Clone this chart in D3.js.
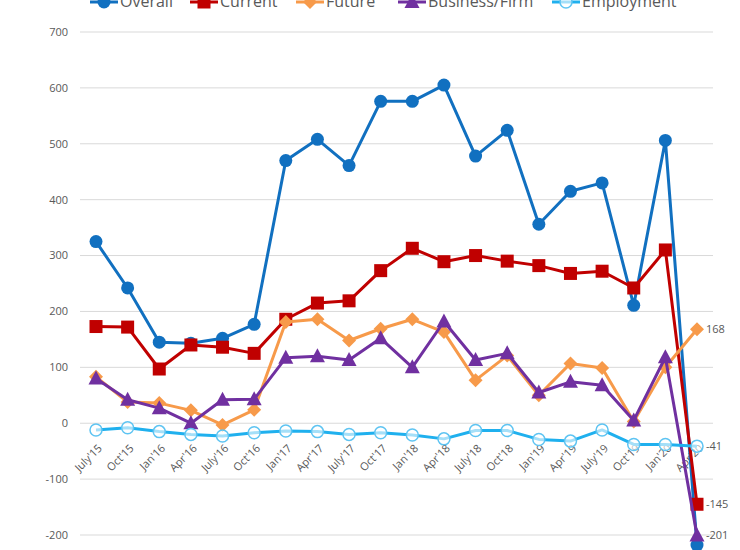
<!DOCTYPE html>
<html><head><meta charset="utf-8">
<script src="https://cdn.jsdelivr.net/npm/d3@7"></script>
<style>body{margin:0;background:#fff}svg{display:block;font-family:"Open Sans",sans-serif}</style>
</head><body><svg id="c" width="740" height="550"></svg>
<script>
const categories = ["July'15","Oct'15","Jan'16","Apr'16","July'16","Oct'16","Jan'17","Apr'17","July'17","Oct'17","Jan'18","Apr'18","July'18","Oct'18","Jan'19","Apr'19","July'19","Oct'19","Jan'20","Apr'20"];
const overall    = [325,242,145,143,152,177,470,508,461,576,576,605,478,524,356,415,430,211,506,-218];
const current    = [173,172,97,140,136,125,186,215,219,273,313,289,300,290,282,268,272,242,310,-145];
const future     = [83,38,36,23,-3,24,181,186,148,169,186,163,77,121,50,107,99,3,100,168];
const business   = [80,42,27,0,42,43,117,120,113,152,100,182,113,125,55,74,68,5,118,-201];
const employment = [-12,-8,-15,-20,-23,-17,-14,-15,-20,-17,-21,-28,-13,-13,-29,-32,-12,-38,-38,-41];
const yTicks = [-200,-100,0,100,200,300,400,500,600,700];
const seriesNames = ["Overall","Current","Future","Business/Firm","Employment"];
const endLabels = {"Future":168,"Employment":-41,"Current":-145,"Business/Firm":-201};

const series = [
  {name:"Overall", values:overall, color:"#1170c0", marker:"circle"},
  {name:"Current", values:current, color:"#c00000", marker:"square"},
  {name:"Future", values:future, color:"#f79a4a", marker:"diamond"},
  {name:"Business/Firm", values:business, color:"#7030a0", marker:"triangle"},
  {name:"Employment", values:employment, color:"#1fb0ee", marker:"open"}
];

const svg = d3.select("#c");
const x = d3.scalePoint().domain(categories).range([96,697]);
const y = d3.scaleLinear().domain([-200,700]).range([535,32]);

svg.append("g").selectAll("line").data(yTicks).join("line")
  .attr("x1",80).attr("x2",713).attr("y1",d=>y(d)).attr("y2",d=>y(d))
  .attr("stroke","#d9d9d9").attr("stroke-width",1);
svg.append("g").selectAll("text").data(yTicks).join("text")
  .attr("x",68).attr("y",d=>y(d)).attr("dy","0.35em").attr("text-anchor","end")
  .attr("font-size",11).attr("fill","#595959").text(d=>d);
svg.append("g").selectAll("text").data(categories).join("text")
  .attr("transform",d=>`translate(${x(d)+4},${y(0)+23}) rotate(-45)`)
  .attr("text-anchor","end").attr("dy","0.35em")
  .attr("font-size",11).attr("fill","#595959").text(d=>d);

function drawMarker(g, type, color){
  if(type==="circle") g.append("circle").attr("r",6.5).attr("fill",color);
  else if(type==="square") g.append("rect").attr("x",-6.5).attr("y",-6.5).attr("width",13).attr("height",13).attr("fill",color);
  else if(type==="diamond") g.append("path").attr("d","M0,-7L7,0L0,7L-7,0Z").attr("fill",color);
  else if(type==="triangle") g.append("path").attr("d","M0,-8L7.5,6L-7.5,6Z").attr("fill",color);
  else if(type==="open") g.append("circle").attr("r",6).attr("fill","#fff").attr("fill-opacity",0.6).attr("stroke","#5ec4f2").attr("stroke-width",1.5);
}

const line = d3.line().x((d,i)=>x(categories[i])).y(d=>y(d));
series.forEach(s=>{
  const g = svg.append("g");
  g.append("path").datum(s.values).attr("d",line).attr("fill","none")
    .attr("stroke",s.color).attr("stroke-width",3).attr("stroke-linejoin","round");
  s.values.forEach((v,i)=>{
    const m = g.append("g").attr("transform",`translate(${x(categories[i])},${y(v)})`);
    drawMarker(m, s.marker, s.color);
  });
});

Object.entries(endLabels).forEach(([k,v])=>{
  svg.append("text").attr("x",x(categories[categories.length-1])+9).attr("y",y(v)).attr("dy","0.35em")
    .attr("font-size",11).attr("fill","#595959").text(v);
});

const legendX = [104,204,310,412,566];
series.forEach((s,i)=>{
  const g = svg.append("g").attr("transform",`translate(${legendX[i]},2)`);
  g.append("line").attr("x1",-14).attr("x2",14).attr("stroke",s.color).attr("stroke-width",3);
  drawMarker(g, s.marker, s.color);
  g.append("text").attr("x",16).attr("y",5).attr("font-size",16).attr("fill","#595959").text(s.name);
});
</script></body></html>
